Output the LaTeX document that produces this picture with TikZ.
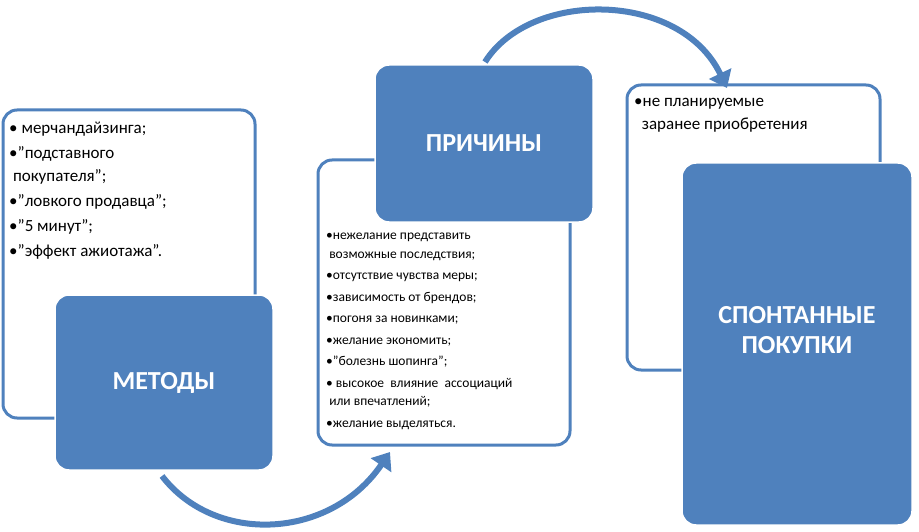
\documentclass[tikz,border=0pt]{standalone}
\usepackage{fontspec}
\setmainfont{Carlito}
\usetikzlibrary{arrows.meta}
\definecolor{bl}{HTML}{4F81BD}
\tikzset{
 wbox/.style={draw=bl,line width=3pt,fill=white,rounded corners=14pt},
 bbox/.style={draw=white,line width=1.5pt,fill=bl,rounded corners=14pt,text=white,font=\fontsize{26}{30}\selectfont\bfseries,align=center},
 lst/.style={anchor=north west,align=left,inner sep=0pt},
 arr/.style={draw=bl,line width=6pt,-{Triangle[length=16pt,width=24pt]}}
}
\begin{document}
\begin{tikzpicture}[x=1pt,y=-1pt]
\useasboundingbox (0,0) rectangle (919,532);
% left
\draw[wbox] (3,110) rectangle (255,418);
\node[lst,font=\fontsize{17}{23}\selectfont] (lt) at (9,122) {%
\textbullet\ мерчандайзинга;\\[2pt]
\textbullet"подставного\\
\ покупателя";\\[2pt]
\textbullet"ловкого продавца";\\[2pt]
\textbullet"5 минут";\\[2pt]
\textbullet"эффект ажиотажа".};
\draw[bbox] (55,295) rectangle (273,470);
\node[bbox,draw=none,fill=none] (m) at (164,383) {МЕТОДЫ};
% middle
\draw[wbox] (318,160) rectangle (570,445);
\node[lst,font=\fontsize{13.5}{18.5}\selectfont] (mt) at (326,233) {%
\textbullet нежелание представить\\
\ возможные последствия;\\[3pt]
\textbullet отсутствие чувства меры;\\[3pt]
\textbullet зависимость от брендов;\\[3pt]
\textbullet погоня за новинками;\\[3pt]
\textbullet желание экономить;\\[3pt]
\textbullet"болезнь шопинга";\\[3pt]
\textbullet\ высокое\ \ влияние\ \ ассоциаций\\
\ или впечатлений;\\[3pt]
\textbullet желание выделяться.};
\draw[bbox] (375,65) rectangle (593,222);
\node[bbox,draw=none,fill=none] (p) at (484,143) {ПРИЧИНЫ};
% right
\draw[wbox] (627,85) rectangle (880,370);
\node[lst,font=\fontsize{17}{23}\selectfont] (rt) at (634,98) {%
\textbullet не планируемые\\
\ \ заранее приобретения};
\draw[bbox] (682,163) rectangle (912,525);
\node[bbox,draw=none,fill=none] (s) at (797,330) {СПОНТАННЫЕ\\ПОКУПКИ};
% arrows
\coordinate (a1) at (162,476);
\coordinate (a2) at (390,452);
\coordinate (b1) at (485,62);
\coordinate (b2) at (727,88);
\draw[arr] (a1) .. controls (215,545) and (330,540) .. (a2);
\draw[arr] (b1) .. controls (530,-10) and (680,-10) .. (b2);
\end{tikzpicture}
\end{document}
